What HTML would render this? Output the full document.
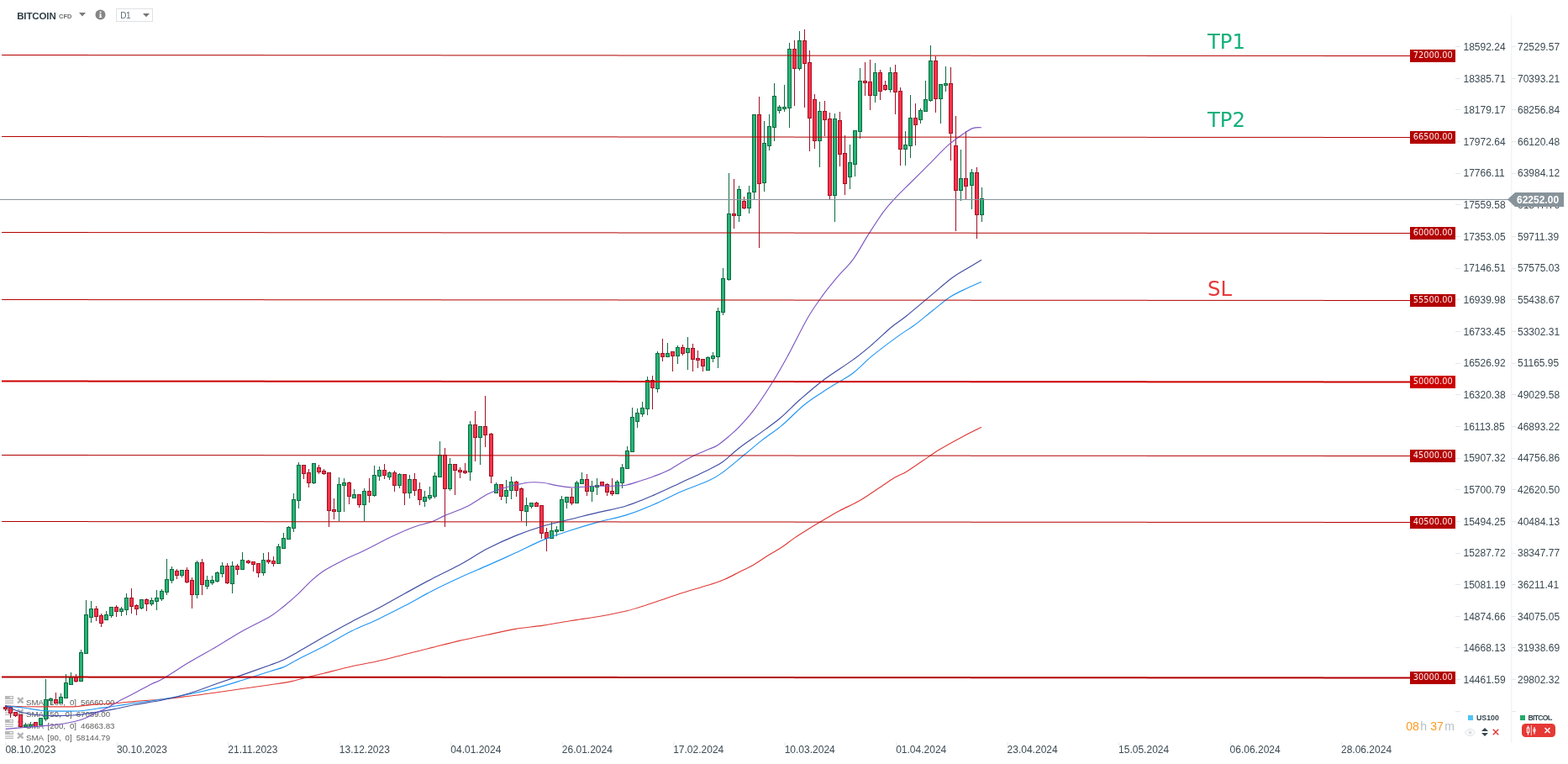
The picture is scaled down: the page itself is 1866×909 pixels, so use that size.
<!DOCTYPE html>
<html><head><meta charset="utf-8"><title>BITCOIN CFD D1</title>
<style>
html,body{margin:0;padding:0;background:#fff;}
body{width:1866px;height:909px;position:relative;overflow:hidden;font-family:"Liberation Sans",sans-serif;color:#37474f;}
#chart{position:absolute;left:0;top:0;}
.pl{position:absolute;left:1678px;width:54px;height:15px;background:#b30000;color:#fff;font-family:"DejaVu Sans","Liberation Sans",sans-serif;font-size:9.8px;line-height:14.4px;text-align:center;letter-spacing:0.04px;text-indent:0.5px;color:rgba(255,255,255,.93);}
.a1,.a2{position:absolute;font-size:12px;line-height:14px;height:14px;color:#3b4a52;white-space:nowrap;}
.a1{left:1741.5px;} .a2{left:1806px;}
.dt{position:absolute;top:884.5px;font-size:12px;line-height:14px;color:#3b4a52;white-space:nowrap;}
.hdr{position:absolute;left:0;top:0;}
.sym{position:absolute;left:20.2px;top:12px;font-size:11.5px;line-height:14px;font-weight:bold;color:#2f3e46;letter-spacing:-0.12px;}
.cfd{position:absolute;left:70px;top:14.8px;font-size:7.5px;line-height:10px;font-weight:bold;color:#6b6f72;}
.d1{position:absolute;left:138px;top:10px;width:44px;height:16px;border:1px solid #dfe1e3;box-sizing:border-box;background:#fff;}
.d1 span{position:absolute;left:4.2px;top:1.4px;font-size:10px;line-height:14px;color:#5a6b75;letter-spacing:-0.4px;}
.tp{position:absolute;font-family:"DejaVu Sans","Liberation Sans",sans-serif;font-size:24.3px;line-height:28px;white-space:nowrap;}
.lg{position:absolute;left:6px;height:14px;white-space:pre;font-size:9.7px;line-height:14px;color:#5d5d5d;}
.lg svg.li{position:absolute;left:0.3px;top:-0.2px;}
.lg svg.lx{position:absolute;left:13.6px;top:0.5px;}
.lg span{position:absolute;left:25px;top:0.6px;word-spacing:-0.2px;}
.cur{position:absolute;left:1794px;top:229px;width:67px;height:17px;}
.cur span{position:absolute;left:11px;top:1.5px;font-size:12px;line-height:14px;font-weight:bold;color:#fff;letter-spacing:0;}
.tm{position:absolute;top:855.3px;font-size:14px;line-height:18px;white-space:nowrap;color:#ff9a1f;}
.tm.g{color:#b5c0c6;}
.l1{position:absolute;left:1757px;top:847.5px;font-size:8.8px;line-height:12px;font-weight:bold;color:#37474f;white-space:nowrap;}
.l2{position:absolute;left:1818.5px;top:848px;font-size:8.6px;line-height:12px;font-weight:bold;color:#37474f;white-space:nowrap;letter-spacing:-0.68px;}
.btn{position:absolute;left:1811px;top:861px;width:40px;height:16px;border-radius:4.5px;background:#e53935;}
</style></head>
<body>
<div class="lg" style="top:828.1px"><svg class="li" width="10" height="9" viewBox="0 0 10 9"><path d="M0 0h10v4H0zM0 5.3h10v1.2H0zM0 7.8h10V9H0z" fill="#b8b8b8"/><rect x="5.5" y="1.2" width="3.5" height="1.3" fill="#fff"/></svg><svg class="lx" width="8.6" height="8.6" viewBox="0 0 8 8"><path d="M1 1L7 7M7 1L1 7" stroke="#b4b4b4" stroke-width="2.2"/></svg><span>SMA  [100,  0]  56660.00</span></div>
<div class="lg" style="top:842.1px"><svg class="li" width="10" height="9" viewBox="0 0 10 9"><path d="M0 0h10v4H0zM0 5.3h10v1.2H0zM0 7.8h10V9H0z" fill="#b8b8b8"/><rect x="5.5" y="1.2" width="3.5" height="1.3" fill="#fff"/></svg><svg class="lx" width="8.6" height="8.6" viewBox="0 0 8 8"><path d="M1 1L7 7M7 1L1 7" stroke="#b4b4b4" stroke-width="2.2"/></svg><span>SMA  [50,  0]  67089.00</span></div>
<div class="lg" style="top:856.2px"><svg class="li" width="10" height="9" viewBox="0 0 10 9"><path d="M0 0h10v4H0zM0 5.3h10v1.2H0zM0 7.8h10V9H0z" fill="#b8b8b8"/><rect x="5.5" y="1.2" width="3.5" height="1.3" fill="#fff"/></svg><svg class="lx" width="8.6" height="8.6" viewBox="0 0 8 8"><path d="M1 1L7 7M7 1L1 7" stroke="#b4b4b4" stroke-width="2.2"/></svg><span>SMA  [200,  0]  46863.83</span></div>
<div class="lg" style="top:870.1px"><svg class="li" width="10" height="9" viewBox="0 0 10 9"><path d="M0 0h10v4H0zM0 5.3h10v1.2H0zM0 7.8h10V9H0z" fill="#b8b8b8"/><rect x="5.5" y="1.2" width="3.5" height="1.3" fill="#fff"/></svg><svg class="lx" width="8.6" height="8.6" viewBox="0 0 8 8"><path d="M1 1L7 7M7 1L1 7" stroke="#b4b4b4" stroke-width="2.2"/></svg><span>SMA  [90,  0]  58144.79</span></div>
<svg id="chart" width="1866" height="909" viewBox="0 0 1866 909">
<rect x="1798.3" y="18" width="1" height="866" fill="#eceff1"/>
<rect x="1732" y="55" width="6" height="1" fill="#e4e8ea"/>
<rect x="1799" y="55" width="5" height="1" fill="#e4e8ea"/>
<rect x="1732" y="93" width="6" height="1" fill="#e4e8ea"/>
<rect x="1799" y="93" width="5" height="1" fill="#e4e8ea"/>
<rect x="1732" y="130" width="6" height="1" fill="#e4e8ea"/>
<rect x="1799" y="130" width="5" height="1" fill="#e4e8ea"/>
<rect x="1732" y="168" width="6" height="1" fill="#e4e8ea"/>
<rect x="1799" y="168" width="5" height="1" fill="#e4e8ea"/>
<rect x="1732" y="206" width="6" height="1" fill="#e4e8ea"/>
<rect x="1799" y="206" width="5" height="1" fill="#e4e8ea"/>
<rect x="1732" y="243" width="6" height="1" fill="#e4e8ea"/>
<rect x="1799" y="243" width="5" height="1" fill="#e4e8ea"/>
<rect x="1732" y="281" width="6" height="1" fill="#e4e8ea"/>
<rect x="1799" y="281" width="5" height="1" fill="#e4e8ea"/>
<rect x="1732" y="319" width="6" height="1" fill="#e4e8ea"/>
<rect x="1799" y="319" width="5" height="1" fill="#e4e8ea"/>
<rect x="1732" y="356" width="6" height="1" fill="#e4e8ea"/>
<rect x="1799" y="356" width="5" height="1" fill="#e4e8ea"/>
<rect x="1732" y="394" width="6" height="1" fill="#e4e8ea"/>
<rect x="1799" y="394" width="5" height="1" fill="#e4e8ea"/>
<rect x="1732" y="432" width="6" height="1" fill="#e4e8ea"/>
<rect x="1799" y="432" width="5" height="1" fill="#e4e8ea"/>
<rect x="1732" y="469" width="6" height="1" fill="#e4e8ea"/>
<rect x="1799" y="469" width="5" height="1" fill="#e4e8ea"/>
<rect x="1732" y="507" width="6" height="1" fill="#e4e8ea"/>
<rect x="1799" y="507" width="5" height="1" fill="#e4e8ea"/>
<rect x="1732" y="545" width="6" height="1" fill="#e4e8ea"/>
<rect x="1799" y="545" width="5" height="1" fill="#e4e8ea"/>
<rect x="1732" y="582" width="6" height="1" fill="#e4e8ea"/>
<rect x="1799" y="582" width="5" height="1" fill="#e4e8ea"/>
<rect x="1732" y="620" width="6" height="1" fill="#e4e8ea"/>
<rect x="1799" y="620" width="5" height="1" fill="#e4e8ea"/>
<rect x="1732" y="658" width="6" height="1" fill="#e4e8ea"/>
<rect x="1799" y="658" width="5" height="1" fill="#e4e8ea"/>
<rect x="1732" y="695" width="6" height="1" fill="#e4e8ea"/>
<rect x="1799" y="695" width="5" height="1" fill="#e4e8ea"/>
<rect x="1732" y="733" width="6" height="1" fill="#e4e8ea"/>
<rect x="1799" y="733" width="5" height="1" fill="#e4e8ea"/>
<rect x="1732" y="770" width="6" height="1" fill="#e4e8ea"/>
<rect x="1799" y="770" width="5" height="1" fill="#e4e8ea"/>
<rect x="1732" y="808" width="6" height="1" fill="#e4e8ea"/>
<rect x="1799" y="808" width="5" height="1" fill="#e4e8ea"/>
<rect x="1732" y="846" width="6" height="1" fill="#e4e8ea"/>
<rect x="1799" y="846" width="5" height="1" fill="#e4e8ea"/>
<rect x="6.4" y="883" width="1" height="4" fill="#e4e8ea"/>
<rect x="138.9" y="883" width="1" height="4" fill="#e4e8ea"/>
<rect x="271.3" y="883" width="1" height="4" fill="#e4e8ea"/>
<rect x="403.8" y="883" width="1" height="4" fill="#e4e8ea"/>
<rect x="536.3" y="883" width="1" height="4" fill="#e4e8ea"/>
<rect x="668.8" y="883" width="1" height="4" fill="#e4e8ea"/>
<rect x="801.2" y="883" width="1" height="4" fill="#e4e8ea"/>
<rect x="933.7" y="883" width="1" height="4" fill="#e4e8ea"/>
<rect x="1066.2" y="883" width="1" height="4" fill="#e4e8ea"/>
<rect x="1198.6" y="883" width="1" height="4" fill="#e4e8ea"/>
<rect x="1331.1" y="883" width="1" height="4" fill="#e4e8ea"/>
<rect x="1463.6" y="883" width="1" height="4" fill="#e4e8ea"/>
<rect x="1596.0" y="883" width="1" height="4" fill="#e4e8ea"/>
<path d="M6.5 839.0V846.0" stroke="#a01126" stroke-width="1"/>
<rect x="4.5" y="841.5" width="4" height="2.0" fill="#ff3249" stroke="#a01126" stroke-width="1"/>
<path d="M12.5 841.0V854.0" stroke="#a01126" stroke-width="1"/>
<rect x="10.5" y="841.5" width="4" height="7.0" fill="#ff3249" stroke="#a01126" stroke-width="1"/>
<path d="M18.5 847.0V853.0" stroke="#a01126" stroke-width="1"/>
<rect x="16.5" y="847.5" width="4" height="4.0" fill="#ff3249" stroke="#a01126" stroke-width="1"/>
<path d="M24.5 850.0V866.0" stroke="#a01126" stroke-width="1"/>
<rect x="22.5" y="850.5" width="4" height="14.0" fill="#ff3249" stroke="#a01126" stroke-width="1"/>
<path d="M30.5 860.0V866.0" stroke="#0b6b40" stroke-width="1"/>
<rect x="28.5" y="862.5" width="4" height="2.0" fill="#27b376" stroke="#0b6b40" stroke-width="1"/>
<path d="M36.5 859.0V866.0" stroke="#0b6b40" stroke-width="1"/>
<rect x="34.5" y="862.5" width="4" height="2.0" fill="#27b376" stroke="#0b6b40" stroke-width="1"/>
<path d="M42.5 859.0V865.0" stroke="#a01126" stroke-width="1"/>
<rect x="40.5" y="859.5" width="4" height="5.0" fill="#ff3249" stroke="#a01126" stroke-width="1"/>
<path d="M48.5 854.0V863.0" stroke="#0b6b40" stroke-width="1"/>
<rect x="46.5" y="854.5" width="4" height="8.0" fill="#27b376" stroke="#0b6b40" stroke-width="1"/>
<path d="M54.5 808.0V858.0" stroke="#0b6b40" stroke-width="1"/>
<rect x="52.5" y="832.5" width="4" height="23.0" fill="#27b376" stroke="#0b6b40" stroke-width="1"/>
<path d="M60.5 830.0V839.0" stroke="#0b6b40" stroke-width="1"/>
<rect x="58.5" y="831.5" width="4" height="2.0" fill="#27b376" stroke="#0b6b40" stroke-width="1"/>
<path d="M66.5 824.0V837.0" stroke="#a01126" stroke-width="1"/>
<rect x="64.5" y="832.5" width="4" height="4.0" fill="#ff3249" stroke="#a01126" stroke-width="1"/>
<path d="M72.5 825.0V836.0" stroke="#0b6b40" stroke-width="1"/>
<rect x="70.5" y="829.5" width="4" height="7.0" fill="#27b376" stroke="#0b6b40" stroke-width="1"/>
<path d="M78.5 802.0V831.0" stroke="#0b6b40" stroke-width="1"/>
<rect x="76.5" y="812.5" width="4" height="18.0" fill="#27b376" stroke="#0b6b40" stroke-width="1"/>
<path d="M84.5 800.0V815.0" stroke="#0b6b40" stroke-width="1"/>
<rect x="82.5" y="805.5" width="4" height="9.0" fill="#27b376" stroke="#0b6b40" stroke-width="1"/>
<path d="M90.5 802.0V812.0" stroke="#a01126" stroke-width="1"/>
<rect x="88.5" y="805.5" width="4" height="5.0" fill="#ff3249" stroke="#a01126" stroke-width="1"/>
<path d="M96.5 773.0V810.0" stroke="#0b6b40" stroke-width="1"/>
<rect x="94.5" y="776.5" width="4" height="34.0" fill="#27b376" stroke="#0b6b40" stroke-width="1"/>
<path d="M102.5 714.0V778.0" stroke="#0b6b40" stroke-width="1"/>
<rect x="100.5" y="731.5" width="4" height="46.0" fill="#27b376" stroke="#0b6b40" stroke-width="1"/>
<path d="M108.5 715.0V741.0" stroke="#0b6b40" stroke-width="1"/>
<rect x="106.5" y="724.5" width="4" height="10.0" fill="#27b376" stroke="#0b6b40" stroke-width="1"/>
<path d="M114.5 721.0V739.0" stroke="#a01126" stroke-width="1"/>
<rect x="112.5" y="724.5" width="4" height="9.0" fill="#ff3249" stroke="#a01126" stroke-width="1"/>
<path d="M120.5 730.0V746.0" stroke="#a01126" stroke-width="1"/>
<rect x="118.5" y="732.5" width="4" height="9.0" fill="#ff3249" stroke="#a01126" stroke-width="1"/>
<path d="M126.5 727.0V738.0" stroke="#0b6b40" stroke-width="1"/>
<rect x="124.5" y="731.5" width="4" height="6.0" fill="#27b376" stroke="#0b6b40" stroke-width="1"/>
<path d="M132.5 722.0V735.0" stroke="#0b6b40" stroke-width="1"/>
<rect x="130.5" y="722.5" width="4" height="10.0" fill="#27b376" stroke="#0b6b40" stroke-width="1"/>
<path d="M138.5 720.0V734.0" stroke="#a01126" stroke-width="1"/>
<rect x="136.5" y="722.5" width="4" height="5.0" fill="#ff3249" stroke="#a01126" stroke-width="1"/>
<path d="M144.5 722.0V733.0" stroke="#0b6b40" stroke-width="1"/>
<rect x="142.5" y="724.5" width="4" height="3.0" fill="#27b376" stroke="#0b6b40" stroke-width="1"/>
<path d="M150.5 706.0V732.0" stroke="#0b6b40" stroke-width="1"/>
<rect x="148.5" y="711.5" width="4" height="14.0" fill="#27b376" stroke="#0b6b40" stroke-width="1"/>
<path d="M156.5 700.0V730.0" stroke="#a01126" stroke-width="1"/>
<rect x="154.5" y="711.5" width="4" height="10.0" fill="#ff3249" stroke="#a01126" stroke-width="1"/>
<path d="M162.5 719.0V732.0" stroke="#a01126" stroke-width="1"/>
<rect x="160.5" y="720.5" width="4" height="4.0" fill="#ff3249" stroke="#a01126" stroke-width="1"/>
<path d="M168.5 713.0V725.0" stroke="#0b6b40" stroke-width="1"/>
<rect x="166.5" y="713.5" width="4" height="10.0" fill="#27b376" stroke="#0b6b40" stroke-width="1"/>
<path d="M174.5 712.0V727.0" stroke="#a01126" stroke-width="1"/>
<rect x="172.5" y="713.5" width="4" height="5.0" fill="#ff3249" stroke="#a01126" stroke-width="1"/>
<path d="M180.5 711.0V721.0" stroke="#0b6b40" stroke-width="1"/>
<rect x="178.5" y="714.5" width="4" height="4.0" fill="#27b376" stroke="#0b6b40" stroke-width="1"/>
<path d="M186.5 702.0V726.0" stroke="#0b6b40" stroke-width="1"/>
<rect x="184.5" y="711.5" width="4" height="4.0" fill="#27b376" stroke="#0b6b40" stroke-width="1"/>
<path d="M192.5 701.0V715.0" stroke="#0b6b40" stroke-width="1"/>
<rect x="190.5" y="703.5" width="4" height="9.0" fill="#27b376" stroke="#0b6b40" stroke-width="1"/>
<path d="M198.5 665.0V708.0" stroke="#0b6b40" stroke-width="1"/>
<rect x="196.5" y="689.5" width="4" height="15.0" fill="#27b376" stroke="#0b6b40" stroke-width="1"/>
<path d="M204.5 674.0V694.0" stroke="#0b6b40" stroke-width="1"/>
<rect x="202.5" y="677.5" width="4" height="13.0" fill="#27b376" stroke="#0b6b40" stroke-width="1"/>
<path d="M210.5 677.0V689.0" stroke="#a01126" stroke-width="1"/>
<rect x="208.5" y="679.5" width="4" height="5.0" fill="#ff3249" stroke="#a01126" stroke-width="1"/>
<path d="M216.5 678.0V687.0" stroke="#0b6b40" stroke-width="1"/>
<rect x="214.5" y="678.5" width="4" height="6.0" fill="#27b376" stroke="#0b6b40" stroke-width="1"/>
<path d="M222.5 675.0V694.0" stroke="#a01126" stroke-width="1"/>
<rect x="220.5" y="678.5" width="4" height="14.0" fill="#ff3249" stroke="#a01126" stroke-width="1"/>
<path d="M228.5 687.0V724.0" stroke="#a01126" stroke-width="1"/>
<rect x="226.5" y="690.5" width="4" height="17.0" fill="#ff3249" stroke="#a01126" stroke-width="1"/>
<path d="M234.5 667.0V712.0" stroke="#0b6b40" stroke-width="1"/>
<rect x="232.5" y="669.5" width="4" height="38.0" fill="#27b376" stroke="#0b6b40" stroke-width="1"/>
<path d="M240.5 665.0V708.0" stroke="#a01126" stroke-width="1"/>
<rect x="238.5" y="669.5" width="4" height="26.0" fill="#ff3249" stroke="#a01126" stroke-width="1"/>
<path d="M246.5 685.0V701.0" stroke="#0b6b40" stroke-width="1"/>
<rect x="244.5" y="690.5" width="4" height="7.0" fill="#27b376" stroke="#0b6b40" stroke-width="1"/>
<path d="M252.5 685.0V696.0" stroke="#0b6b40" stroke-width="1"/>
<rect x="250.5" y="690.5" width="4" height="3.0" fill="#27b376" stroke="#0b6b40" stroke-width="1"/>
<path d="M258.5 680.0V693.0" stroke="#0b6b40" stroke-width="1"/>
<rect x="256.5" y="681.5" width="4" height="10.0" fill="#27b376" stroke="#0b6b40" stroke-width="1"/>
<path d="M264.5 669.0V687.0" stroke="#0b6b40" stroke-width="1"/>
<rect x="262.5" y="673.5" width="4" height="9.0" fill="#27b376" stroke="#0b6b40" stroke-width="1"/>
<path d="M270.5 670.0V695.0" stroke="#a01126" stroke-width="1"/>
<rect x="268.5" y="673.5" width="4" height="20.0" fill="#ff3249" stroke="#a01126" stroke-width="1"/>
<path d="M276.5 668.0V706.0" stroke="#0b6b40" stroke-width="1"/>
<rect x="274.5" y="673.5" width="4" height="21.0" fill="#27b376" stroke="#0b6b40" stroke-width="1"/>
<path d="M282.5 671.0V684.0" stroke="#a01126" stroke-width="1"/>
<rect x="280.5" y="673.5" width="4" height="4.0" fill="#ff3249" stroke="#a01126" stroke-width="1"/>
<path d="M288.5 657.0V678.0" stroke="#0b6b40" stroke-width="1"/>
<rect x="286.5" y="666.5" width="4" height="11.0" fill="#27b376" stroke="#0b6b40" stroke-width="1"/>
<path d="M295.5 666.0V671.0" stroke="#a01126" stroke-width="1"/>
<rect x="293.5" y="667.5" width="4" height="2.0" fill="#ff3249" stroke="#a01126" stroke-width="1"/>
<path d="M301.5 668.0V680.0" stroke="#a01126" stroke-width="1"/>
<rect x="299.5" y="668.5" width="4" height="3.0" fill="#ff3249" stroke="#a01126" stroke-width="1"/>
<path d="M307.5 670.0V687.0" stroke="#a01126" stroke-width="1"/>
<rect x="305.5" y="670.5" width="4" height="11.0" fill="#ff3249" stroke="#a01126" stroke-width="1"/>
<path d="M313.5 658.0V685.0" stroke="#0b6b40" stroke-width="1"/>
<rect x="311.5" y="666.5" width="4" height="15.0" fill="#27b376" stroke="#0b6b40" stroke-width="1"/>
<path d="M319.5 657.0V671.0" stroke="#a01126" stroke-width="1"/>
<rect x="317.5" y="666.5" width="4" height="2.0" fill="#ff3249" stroke="#a01126" stroke-width="1"/>
<path d="M325.5 662.0V674.0" stroke="#a01126" stroke-width="1"/>
<rect x="323.5" y="667.5" width="4" height="3.0" fill="#ff3249" stroke="#a01126" stroke-width="1"/>
<path d="M331.5 647.0V671.0" stroke="#0b6b40" stroke-width="1"/>
<rect x="329.5" y="650.5" width="4" height="20.0" fill="#27b376" stroke="#0b6b40" stroke-width="1"/>
<path d="M337.5 634.0V652.0" stroke="#0b6b40" stroke-width="1"/>
<rect x="335.5" y="640.5" width="4" height="12.0" fill="#27b376" stroke="#0b6b40" stroke-width="1"/>
<path d="M343.5 626.0V642.0" stroke="#0b6b40" stroke-width="1"/>
<rect x="341.5" y="627.5" width="4" height="14.0" fill="#27b376" stroke="#0b6b40" stroke-width="1"/>
<path d="M349.5 587.0V633.0" stroke="#0b6b40" stroke-width="1"/>
<rect x="347.5" y="594.5" width="4" height="34.0" fill="#27b376" stroke="#0b6b40" stroke-width="1"/>
<path d="M355.5 550.0V605.0" stroke="#0b6b40" stroke-width="1"/>
<rect x="353.5" y="553.5" width="4" height="42.0" fill="#27b376" stroke="#0b6b40" stroke-width="1"/>
<path d="M361.5 553.0V570.0" stroke="#a01126" stroke-width="1"/>
<rect x="359.5" y="553.5" width="4" height="10.0" fill="#ff3249" stroke="#a01126" stroke-width="1"/>
<path d="M367.5 558.0V580.0" stroke="#a01126" stroke-width="1"/>
<rect x="365.5" y="562.5" width="4" height="12.0" fill="#ff3249" stroke="#a01126" stroke-width="1"/>
<path d="M373.5 551.0V576.0" stroke="#0b6b40" stroke-width="1"/>
<rect x="371.5" y="551.5" width="4" height="23.0" fill="#27b376" stroke="#0b6b40" stroke-width="1"/>
<path d="M379.5 553.0V564.0" stroke="#a01126" stroke-width="1"/>
<rect x="377.5" y="556.5" width="4" height="5.0" fill="#ff3249" stroke="#a01126" stroke-width="1"/>
<path d="M385.5 558.0V565.0" stroke="#a01126" stroke-width="1"/>
<rect x="383.5" y="560.5" width="4" height="3.0" fill="#ff3249" stroke="#a01126" stroke-width="1"/>
<path d="M391.5 562.0V627.0" stroke="#a01126" stroke-width="1"/>
<rect x="389.5" y="562.5" width="4" height="45.0" fill="#ff3249" stroke="#a01126" stroke-width="1"/>
<path d="M397.5 593.0V618.0" stroke="#a01126" stroke-width="1"/>
<rect x="395.5" y="606.5" width="4" height="2.0" fill="#ff3249" stroke="#a01126" stroke-width="1"/>
<path d="M403.5 568.0V620.0" stroke="#0b6b40" stroke-width="1"/>
<rect x="401.5" y="576.5" width="4" height="32.0" fill="#27b376" stroke="#0b6b40" stroke-width="1"/>
<path d="M409.5 569.0V609.0" stroke="#0b6b40" stroke-width="1"/>
<rect x="407.5" y="574.5" width="4" height="3.0" fill="#27b376" stroke="#0b6b40" stroke-width="1"/>
<path d="M415.5 573.0V600.0" stroke="#a01126" stroke-width="1"/>
<rect x="413.5" y="574.5" width="4" height="16.0" fill="#ff3249" stroke="#a01126" stroke-width="1"/>
<path d="M421.5 582.0V593.0" stroke="#0b6b40" stroke-width="1"/>
<rect x="419.5" y="588.5" width="4" height="4.0" fill="#27b376" stroke="#0b6b40" stroke-width="1"/>
<path d="M427.5 588.0V604.0" stroke="#a01126" stroke-width="1"/>
<rect x="425.5" y="588.5" width="4" height="12.0" fill="#ff3249" stroke="#a01126" stroke-width="1"/>
<path d="M433.5 581.0V620.0" stroke="#0b6b40" stroke-width="1"/>
<rect x="431.5" y="584.5" width="4" height="16.0" fill="#27b376" stroke="#0b6b40" stroke-width="1"/>
<path d="M439.5 569.0V598.0" stroke="#a01126" stroke-width="1"/>
<rect x="437.5" y="584.5" width="4" height="5.0" fill="#ff3249" stroke="#a01126" stroke-width="1"/>
<path d="M445.5 554.0V591.0" stroke="#0b6b40" stroke-width="1"/>
<rect x="443.5" y="565.5" width="4" height="24.0" fill="#27b376" stroke="#0b6b40" stroke-width="1"/>
<path d="M451.5 555.0V572.0" stroke="#0b6b40" stroke-width="1"/>
<rect x="449.5" y="559.5" width="4" height="7.0" fill="#27b376" stroke="#0b6b40" stroke-width="1"/>
<path d="M457.5 552.0V570.0" stroke="#a01126" stroke-width="1"/>
<rect x="455.5" y="559.5" width="4" height="6.0" fill="#ff3249" stroke="#a01126" stroke-width="1"/>
<path d="M463.5 561.0V571.0" stroke="#0b6b40" stroke-width="1"/>
<rect x="461.5" y="562.5" width="4" height="5.0" fill="#27b376" stroke="#0b6b40" stroke-width="1"/>
<path d="M469.5 560.0V585.0" stroke="#a01126" stroke-width="1"/>
<rect x="467.5" y="562.5" width="4" height="15.0" fill="#ff3249" stroke="#a01126" stroke-width="1"/>
<path d="M475.5 563.0V581.0" stroke="#0b6b40" stroke-width="1"/>
<rect x="473.5" y="564.5" width="4" height="13.0" fill="#27b376" stroke="#0b6b40" stroke-width="1"/>
<path d="M481.5 564.0V601.0" stroke="#a01126" stroke-width="1"/>
<rect x="479.5" y="564.5" width="4" height="22.0" fill="#ff3249" stroke="#a01126" stroke-width="1"/>
<path d="M487.5 565.0V593.0" stroke="#0b6b40" stroke-width="1"/>
<rect x="485.5" y="570.5" width="4" height="16.0" fill="#27b376" stroke="#0b6b40" stroke-width="1"/>
<path d="M493.5 563.0V590.0" stroke="#a01126" stroke-width="1"/>
<rect x="491.5" y="570.5" width="4" height="13.0" fill="#ff3249" stroke="#a01126" stroke-width="1"/>
<path d="M499.5 574.0V601.0" stroke="#a01126" stroke-width="1"/>
<rect x="497.5" y="582.5" width="4" height="12.0" fill="#ff3249" stroke="#a01126" stroke-width="1"/>
<path d="M505.5 584.0V603.0" stroke="#0b6b40" stroke-width="1"/>
<rect x="503.5" y="591.5" width="4" height="5.0" fill="#27b376" stroke="#0b6b40" stroke-width="1"/>
<path d="M511.5 579.0V595.0" stroke="#0b6b40" stroke-width="1"/>
<rect x="509.5" y="589.5" width="4" height="3.0" fill="#27b376" stroke="#0b6b40" stroke-width="1"/>
<path d="M517.5 562.0V593.0" stroke="#0b6b40" stroke-width="1"/>
<rect x="515.5" y="566.5" width="4" height="24.0" fill="#27b376" stroke="#0b6b40" stroke-width="1"/>
<path d="M523.5 525.0V568.0" stroke="#0b6b40" stroke-width="1"/>
<rect x="521.5" y="541.5" width="4" height="26.0" fill="#27b376" stroke="#0b6b40" stroke-width="1"/>
<path d="M529.5 533.0V627.0" stroke="#a01126" stroke-width="1"/>
<rect x="527.5" y="541.5" width="4" height="40.0" fill="#ff3249" stroke="#a01126" stroke-width="1"/>
<path d="M535.5 545.0V584.0" stroke="#0b6b40" stroke-width="1"/>
<rect x="533.5" y="552.5" width="4" height="29.0" fill="#27b376" stroke="#0b6b40" stroke-width="1"/>
<path d="M541.5 552.0V589.0" stroke="#a01126" stroke-width="1"/>
<rect x="539.5" y="552.5" width="4" height="7.0" fill="#ff3249" stroke="#a01126" stroke-width="1"/>
<path d="M547.5 556.0V569.0" stroke="#a01126" stroke-width="1"/>
<rect x="545.5" y="559.5" width="4" height="2.0" fill="#ff3249" stroke="#a01126" stroke-width="1"/>
<path d="M553.5 551.0V564.0" stroke="#a01126" stroke-width="1"/>
<rect x="551.5" y="560.5" width="4" height="2.0" fill="#ff3249" stroke="#a01126" stroke-width="1"/>
<path d="M559.5 501.0V572.0" stroke="#0b6b40" stroke-width="1"/>
<rect x="557.5" y="505.5" width="4" height="56.0" fill="#27b376" stroke="#0b6b40" stroke-width="1"/>
<path d="M565.5 489.0V549.0" stroke="#a01126" stroke-width="1"/>
<rect x="563.5" y="505.5" width="4" height="15.0" fill="#ff3249" stroke="#a01126" stroke-width="1"/>
<path d="M571.5 507.0V553.0" stroke="#0b6b40" stroke-width="1"/>
<rect x="569.5" y="507.5" width="4" height="13.0" fill="#27b376" stroke="#0b6b40" stroke-width="1"/>
<path d="M577.5 471.0V532.0" stroke="#a01126" stroke-width="1"/>
<rect x="575.5" y="507.5" width="4" height="10.0" fill="#ff3249" stroke="#a01126" stroke-width="1"/>
<path d="M584.5 515.0V575.0" stroke="#a01126" stroke-width="1"/>
<rect x="582.5" y="516.5" width="4" height="50.0" fill="#ff3249" stroke="#a01126" stroke-width="1"/>
<path d="M590.5 574.0V586.0" stroke="#0b6b40" stroke-width="1"/>
<rect x="588.5" y="576.5" width="4" height="10.0" fill="#27b376" stroke="#0b6b40" stroke-width="1"/>
<path d="M596.5 576.0V595.0" stroke="#a01126" stroke-width="1"/>
<rect x="594.5" y="576.5" width="4" height="14.0" fill="#ff3249" stroke="#a01126" stroke-width="1"/>
<path d="M602.5 571.0V599.0" stroke="#0b6b40" stroke-width="1"/>
<rect x="600.5" y="583.5" width="4" height="7.0" fill="#27b376" stroke="#0b6b40" stroke-width="1"/>
<path d="M608.5 567.0V594.0" stroke="#0b6b40" stroke-width="1"/>
<rect x="606.5" y="573.5" width="4" height="10.0" fill="#27b376" stroke="#0b6b40" stroke-width="1"/>
<path d="M614.5 572.0V591.0" stroke="#a01126" stroke-width="1"/>
<rect x="612.5" y="573.5" width="4" height="10.0" fill="#ff3249" stroke="#a01126" stroke-width="1"/>
<path d="M620.5 580.0V620.0" stroke="#a01126" stroke-width="1"/>
<rect x="618.5" y="581.5" width="4" height="26.0" fill="#ff3249" stroke="#a01126" stroke-width="1"/>
<path d="M626.5 592.0V626.0" stroke="#0b6b40" stroke-width="1"/>
<rect x="624.5" y="601.5" width="4" height="7.0" fill="#27b376" stroke="#0b6b40" stroke-width="1"/>
<path d="M632.5 598.0V605.0" stroke="#0b6b40" stroke-width="1"/>
<rect x="630.5" y="598.5" width="4" height="4.0" fill="#27b376" stroke="#0b6b40" stroke-width="1"/>
<path d="M638.5 597.0V603.0" stroke="#a01126" stroke-width="1"/>
<rect x="636.5" y="598.5" width="4" height="4.0" fill="#ff3249" stroke="#a01126" stroke-width="1"/>
<path d="M644.5 601.0V641.0" stroke="#a01126" stroke-width="1"/>
<rect x="642.5" y="601.5" width="4" height="33.0" fill="#ff3249" stroke="#a01126" stroke-width="1"/>
<path d="M650.5 628.0V656.0" stroke="#a01126" stroke-width="1"/>
<rect x="648.5" y="633.5" width="4" height="7.0" fill="#ff3249" stroke="#a01126" stroke-width="1"/>
<path d="M656.5 621.0V641.0" stroke="#0b6b40" stroke-width="1"/>
<rect x="654.5" y="631.5" width="4" height="9.0" fill="#27b376" stroke="#0b6b40" stroke-width="1"/>
<path d="M662.5 626.0V638.0" stroke="#0b6b40" stroke-width="1"/>
<rect x="660.5" y="630.5" width="4" height="2.0" fill="#27b376" stroke="#0b6b40" stroke-width="1"/>
<path d="M668.5 590.0V632.0" stroke="#0b6b40" stroke-width="1"/>
<rect x="666.5" y="594.5" width="4" height="37.0" fill="#27b376" stroke="#0b6b40" stroke-width="1"/>
<path d="M674.5 591.0V605.0" stroke="#0b6b40" stroke-width="1"/>
<rect x="672.5" y="591.5" width="4" height="6.0" fill="#27b376" stroke="#0b6b40" stroke-width="1"/>
<path d="M680.5 581.0V601.0" stroke="#a01126" stroke-width="1"/>
<rect x="678.5" y="591.5" width="4" height="7.0" fill="#ff3249" stroke="#a01126" stroke-width="1"/>
<path d="M686.5 572.0V599.0" stroke="#0b6b40" stroke-width="1"/>
<rect x="684.5" y="574.5" width="4" height="24.0" fill="#27b376" stroke="#0b6b40" stroke-width="1"/>
<path d="M692.5 562.0V576.0" stroke="#0b6b40" stroke-width="1"/>
<rect x="690.5" y="570.5" width="4" height="5.0" fill="#27b376" stroke="#0b6b40" stroke-width="1"/>
<path d="M698.5 564.0V590.0" stroke="#a01126" stroke-width="1"/>
<rect x="696.5" y="570.5" width="4" height="14.0" fill="#ff3249" stroke="#a01126" stroke-width="1"/>
<path d="M704.5 572.0V597.0" stroke="#0b6b40" stroke-width="1"/>
<rect x="702.5" y="578.5" width="4" height="6.0" fill="#27b376" stroke="#0b6b40" stroke-width="1"/>
<path d="M710.5 569.0V589.0" stroke="#0b6b40" stroke-width="1"/>
<rect x="708.5" y="577.5" width="4" height="2.0" fill="#27b376" stroke="#0b6b40" stroke-width="1"/>
<path d="M716.5 574.0V578.0" stroke="#a01126" stroke-width="1"/>
<rect x="714.5" y="573.5" width="4" height="4.0" fill="#ff3249" stroke="#a01126" stroke-width="1"/>
<path d="M722.5 575.0V590.0" stroke="#a01126" stroke-width="1"/>
<rect x="720.5" y="576.5" width="4" height="9.0" fill="#ff3249" stroke="#a01126" stroke-width="1"/>
<path d="M728.5 569.0V590.0" stroke="#a01126" stroke-width="1"/>
<rect x="726.5" y="584.5" width="4" height="3.0" fill="#ff3249" stroke="#a01126" stroke-width="1"/>
<path d="M734.5 571.0V588.0" stroke="#0b6b40" stroke-width="1"/>
<rect x="732.5" y="573.5" width="4" height="14.0" fill="#27b376" stroke="#0b6b40" stroke-width="1"/>
<path d="M740.5 552.0V581.0" stroke="#0b6b40" stroke-width="1"/>
<rect x="738.5" y="556.5" width="4" height="18.0" fill="#27b376" stroke="#0b6b40" stroke-width="1"/>
<path d="M746.5 531.0V558.0" stroke="#0b6b40" stroke-width="1"/>
<rect x="744.5" y="536.5" width="4" height="21.0" fill="#27b376" stroke="#0b6b40" stroke-width="1"/>
<path d="M752.5 485.0V538.0" stroke="#0b6b40" stroke-width="1"/>
<rect x="750.5" y="496.5" width="4" height="41.0" fill="#27b376" stroke="#0b6b40" stroke-width="1"/>
<path d="M758.5 486.0V509.0" stroke="#0b6b40" stroke-width="1"/>
<rect x="756.5" y="491.5" width="4" height="10.0" fill="#27b376" stroke="#0b6b40" stroke-width="1"/>
<path d="M764.5 478.0V496.0" stroke="#0b6b40" stroke-width="1"/>
<rect x="762.5" y="485.5" width="4" height="7.0" fill="#27b376" stroke="#0b6b40" stroke-width="1"/>
<path d="M770.5 448.0V494.0" stroke="#0b6b40" stroke-width="1"/>
<rect x="768.5" y="452.5" width="4" height="34.0" fill="#27b376" stroke="#0b6b40" stroke-width="1"/>
<path d="M776.5 447.0V487.0" stroke="#a01126" stroke-width="1"/>
<rect x="774.5" y="452.5" width="4" height="9.0" fill="#ff3249" stroke="#a01126" stroke-width="1"/>
<path d="M782.5 418.0V467.0" stroke="#0b6b40" stroke-width="1"/>
<rect x="780.5" y="420.5" width="4" height="42.0" fill="#27b376" stroke="#0b6b40" stroke-width="1"/>
<path d="M788.5 403.0V430.0" stroke="#a01126" stroke-width="1"/>
<rect x="786.5" y="420.5" width="4" height="4.0" fill="#ff3249" stroke="#a01126" stroke-width="1"/>
<path d="M794.5 408.0V425.0" stroke="#0b6b40" stroke-width="1"/>
<rect x="792.5" y="420.5" width="4" height="4.0" fill="#27b376" stroke="#0b6b40" stroke-width="1"/>
<path d="M800.5 418.0V442.0" stroke="#a01126" stroke-width="1"/>
<rect x="798.5" y="418.5" width="4" height="5.0" fill="#ff3249" stroke="#a01126" stroke-width="1"/>
<path d="M806.5 411.0V433.0" stroke="#0b6b40" stroke-width="1"/>
<rect x="804.5" y="413.5" width="4" height="10.0" fill="#27b376" stroke="#0b6b40" stroke-width="1"/>
<path d="M812.5 410.0V423.0" stroke="#a01126" stroke-width="1"/>
<rect x="810.5" y="413.5" width="4" height="7.0" fill="#ff3249" stroke="#a01126" stroke-width="1"/>
<path d="M818.5 401.0V440.0" stroke="#0b6b40" stroke-width="1"/>
<rect x="816.5" y="414.5" width="4" height="5.0" fill="#27b376" stroke="#0b6b40" stroke-width="1"/>
<path d="M824.5 409.0V442.0" stroke="#a01126" stroke-width="1"/>
<rect x="822.5" y="414.5" width="4" height="13.0" fill="#ff3249" stroke="#a01126" stroke-width="1"/>
<path d="M830.5 417.0V438.0" stroke="#a01126" stroke-width="1"/>
<rect x="828.5" y="426.5" width="4" height="2.0" fill="#ff3249" stroke="#a01126" stroke-width="1"/>
<path d="M836.5 427.0V442.0" stroke="#a01126" stroke-width="1"/>
<rect x="834.5" y="427.5" width="4" height="8.0" fill="#ff3249" stroke="#a01126" stroke-width="1"/>
<path d="M842.5 424.0V441.0" stroke="#0b6b40" stroke-width="1"/>
<rect x="840.5" y="425.5" width="4" height="15.0" fill="#27b376" stroke="#0b6b40" stroke-width="1"/>
<path d="M848.5 419.0V431.0" stroke="#0b6b40" stroke-width="1"/>
<rect x="846.5" y="423.5" width="4" height="3.0" fill="#27b376" stroke="#0b6b40" stroke-width="1"/>
<path d="M854.5 366.0V438.0" stroke="#0b6b40" stroke-width="1"/>
<rect x="852.5" y="370.5" width="4" height="54.0" fill="#27b376" stroke="#0b6b40" stroke-width="1"/>
<path d="M860.5 319.0V375.0" stroke="#0b6b40" stroke-width="1"/>
<rect x="858.5" y="331.5" width="4" height="40.0" fill="#27b376" stroke="#0b6b40" stroke-width="1"/>
<path d="M867.5 206.0V334.0" stroke="#0b6b40" stroke-width="1"/>
<rect x="865.5" y="254.5" width="4" height="78.0" fill="#27b376" stroke="#0b6b40" stroke-width="1"/>
<path d="M873.5 213.0V272.0" stroke="#a01126" stroke-width="1"/>
<rect x="871.5" y="254.5" width="4" height="2.0" fill="#ff3249" stroke="#a01126" stroke-width="1"/>
<path d="M879.5 221.0V264.0" stroke="#0b6b40" stroke-width="1"/>
<rect x="877.5" y="225.5" width="4" height="31.0" fill="#27b376" stroke="#0b6b40" stroke-width="1"/>
<path d="M885.5 234.0V249.0" stroke="#a01126" stroke-width="1"/>
<rect x="883.5" y="239.5" width="4" height="8.0" fill="#ff3249" stroke="#a01126" stroke-width="1"/>
<path d="M891.5 221.0V254.0" stroke="#0b6b40" stroke-width="1"/>
<rect x="889.5" y="229.5" width="4" height="18.0" fill="#27b376" stroke="#0b6b40" stroke-width="1"/>
<path d="M897.5 136.0V237.0" stroke="#0b6b40" stroke-width="1"/>
<rect x="895.5" y="136.5" width="4" height="92.0" fill="#27b376" stroke="#0b6b40" stroke-width="1"/>
<path d="M903.5 115.0V295.0" stroke="#a01126" stroke-width="1"/>
<rect x="901.5" y="136.5" width="4" height="82.0" fill="#ff3249" stroke="#a01126" stroke-width="1"/>
<path d="M909.5 144.0V228.0" stroke="#0b6b40" stroke-width="1"/>
<rect x="907.5" y="170.5" width="4" height="47.0" fill="#27b376" stroke="#0b6b40" stroke-width="1"/>
<path d="M915.5 136.0V179.0" stroke="#0b6b40" stroke-width="1"/>
<rect x="913.5" y="150.5" width="4" height="23.0" fill="#27b376" stroke="#0b6b40" stroke-width="1"/>
<path d="M921.5 99.0V168.0" stroke="#0b6b40" stroke-width="1"/>
<rect x="919.5" y="114.5" width="4" height="37.0" fill="#27b376" stroke="#0b6b40" stroke-width="1"/>
<path d="M927.5 125.0V135.0" stroke="#0b6b40" stroke-width="1"/>
<rect x="925.5" y="127.5" width="4" height="4.0" fill="#27b376" stroke="#0b6b40" stroke-width="1"/>
<path d="M933.5 101.0V133.0" stroke="#0b6b40" stroke-width="1"/>
<rect x="931.5" y="127.5" width="4" height="2.0" fill="#27b376" stroke="#0b6b40" stroke-width="1"/>
<path d="M939.5 51.0V152.0" stroke="#0b6b40" stroke-width="1"/>
<rect x="937.5" y="58.5" width="4" height="70.0" fill="#27b376" stroke="#0b6b40" stroke-width="1"/>
<path d="M945.5 48.0V126.0" stroke="#a01126" stroke-width="1"/>
<rect x="943.5" y="58.5" width="4" height="23.0" fill="#ff3249" stroke="#a01126" stroke-width="1"/>
<path d="M951.5 37.0V84.0" stroke="#0b6b40" stroke-width="1"/>
<rect x="949.5" y="48.5" width="4" height="33.0" fill="#27b376" stroke="#0b6b40" stroke-width="1"/>
<path d="M957.5 35.0V128.0" stroke="#a01126" stroke-width="1"/>
<rect x="955.5" y="48.5" width="4" height="27.0" fill="#ff3249" stroke="#a01126" stroke-width="1"/>
<path d="M963.5 60.0V180.0" stroke="#a01126" stroke-width="1"/>
<rect x="961.5" y="74.5" width="4" height="66.0" fill="#ff3249" stroke="#a01126" stroke-width="1"/>
<path d="M969.5 112.0V177.0" stroke="#a01126" stroke-width="1"/>
<rect x="967.5" y="118.5" width="4" height="49.0" fill="#ff3249" stroke="#a01126" stroke-width="1"/>
<path d="M975.5 121.0V199.0" stroke="#0b6b40" stroke-width="1"/>
<rect x="973.5" y="132.5" width="4" height="35.0" fill="#27b376" stroke="#0b6b40" stroke-width="1"/>
<path d="M981.5 120.0V162.0" stroke="#a01126" stroke-width="1"/>
<rect x="979.5" y="132.5" width="4" height="10.0" fill="#ff3249" stroke="#a01126" stroke-width="1"/>
<path d="M987.5 134.0V237.0" stroke="#a01126" stroke-width="1"/>
<rect x="985.5" y="141.5" width="4" height="91.0" fill="#ff3249" stroke="#a01126" stroke-width="1"/>
<path d="M993.5 135.0V264.0" stroke="#0b6b40" stroke-width="1"/>
<rect x="991.5" y="141.5" width="4" height="91.0" fill="#27b376" stroke="#0b6b40" stroke-width="1"/>
<path d="M999.5 133.0V198.0" stroke="#a01126" stroke-width="1"/>
<rect x="997.5" y="143.5" width="4" height="40.0" fill="#ff3249" stroke="#a01126" stroke-width="1"/>
<path d="M1005.5 161.0V232.0" stroke="#a01126" stroke-width="1"/>
<rect x="1003.5" y="182.5" width="4" height="36.0" fill="#ff3249" stroke="#a01126" stroke-width="1"/>
<path d="M1011.5 172.0V225.0" stroke="#0b6b40" stroke-width="1"/>
<rect x="1009.5" y="193.5" width="4" height="17.0" fill="#27b376" stroke="#0b6b40" stroke-width="1"/>
<path d="M1017.5 155.0V210.0" stroke="#0b6b40" stroke-width="1"/>
<rect x="1015.5" y="155.5" width="4" height="40.0" fill="#27b376" stroke="#0b6b40" stroke-width="1"/>
<path d="M1023.5 81.0V165.0" stroke="#0b6b40" stroke-width="1"/>
<rect x="1021.5" y="96.5" width="4" height="60.0" fill="#27b376" stroke="#0b6b40" stroke-width="1"/>
<path d="M1029.5 74.0V114.0" stroke="#a01126" stroke-width="1"/>
<rect x="1027.5" y="96.5" width="4" height="2.0" fill="#ff3249" stroke="#a01126" stroke-width="1"/>
<path d="M1035.5 71.0V131.0" stroke="#a01126" stroke-width="1"/>
<rect x="1033.5" y="97.5" width="4" height="16.0" fill="#ff3249" stroke="#a01126" stroke-width="1"/>
<path d="M1041.5 75.0V122.0" stroke="#0b6b40" stroke-width="1"/>
<rect x="1039.5" y="86.5" width="4" height="27.0" fill="#27b376" stroke="#0b6b40" stroke-width="1"/>
<path d="M1047.5 83.0V119.0" stroke="#a01126" stroke-width="1"/>
<rect x="1045.5" y="86.5" width="4" height="22.0" fill="#ff3249" stroke="#a01126" stroke-width="1"/>
<path d="M1053.5 96.0V108.0" stroke="#a01126" stroke-width="1"/>
<rect x="1051.5" y="101.5" width="4" height="5.0" fill="#ff3249" stroke="#a01126" stroke-width="1"/>
<path d="M1059.5 80.0V110.0" stroke="#0b6b40" stroke-width="1"/>
<rect x="1057.5" y="86.5" width="4" height="20.0" fill="#27b376" stroke="#0b6b40" stroke-width="1"/>
<path d="M1065.5 77.0V136.0" stroke="#a01126" stroke-width="1"/>
<rect x="1063.5" y="86.5" width="4" height="23.0" fill="#ff3249" stroke="#a01126" stroke-width="1"/>
<path d="M1071.5 104.0V197.0" stroke="#a01126" stroke-width="1"/>
<rect x="1069.5" y="108.5" width="4" height="69.0" fill="#ff3249" stroke="#a01126" stroke-width="1"/>
<path d="M1077.5 156.0V197.0" stroke="#0b6b40" stroke-width="1"/>
<rect x="1075.5" y="172.5" width="4" height="5.0" fill="#27b376" stroke="#0b6b40" stroke-width="1"/>
<path d="M1083.5 113.0V188.0" stroke="#0b6b40" stroke-width="1"/>
<rect x="1081.5" y="140.5" width="4" height="33.0" fill="#27b376" stroke="#0b6b40" stroke-width="1"/>
<path d="M1089.5 123.0V173.0" stroke="#a01126" stroke-width="1"/>
<rect x="1087.5" y="140.5" width="4" height="8.0" fill="#ff3249" stroke="#a01126" stroke-width="1"/>
<path d="M1095.5 129.0V147.0" stroke="#0b6b40" stroke-width="1"/>
<rect x="1093.5" y="131.5" width="4" height="11.0" fill="#27b376" stroke="#0b6b40" stroke-width="1"/>
<path d="M1101.5 96.0V132.0" stroke="#0b6b40" stroke-width="1"/>
<rect x="1099.5" y="118.5" width="4" height="14.0" fill="#27b376" stroke="#0b6b40" stroke-width="1"/>
<path d="M1107.5 54.0V121.0" stroke="#0b6b40" stroke-width="1"/>
<rect x="1105.5" y="72.5" width="4" height="47.0" fill="#27b376" stroke="#0b6b40" stroke-width="1"/>
<path d="M1113.5 67.0V134.0" stroke="#a01126" stroke-width="1"/>
<rect x="1111.5" y="72.5" width="4" height="45.0" fill="#ff3249" stroke="#a01126" stroke-width="1"/>
<path d="M1119.5 100.0V147.0" stroke="#0b6b40" stroke-width="1"/>
<rect x="1117.5" y="100.5" width="4" height="17.0" fill="#27b376" stroke="#0b6b40" stroke-width="1"/>
<path d="M1125.5 79.0V109.0" stroke="#0b6b40" stroke-width="1"/>
<rect x="1123.5" y="99.5" width="4" height="2.0" fill="#27b376" stroke="#0b6b40" stroke-width="1"/>
<path d="M1131.5 80.0V191.0" stroke="#a01126" stroke-width="1"/>
<rect x="1129.5" y="99.5" width="4" height="59.0" fill="#ff3249" stroke="#a01126" stroke-width="1"/>
<path d="M1137.5 138.0V275.0" stroke="#a01126" stroke-width="1"/>
<rect x="1135.5" y="173.5" width="4" height="53.0" fill="#ff3249" stroke="#a01126" stroke-width="1"/>
<path d="M1143.5 178.0V239.0" stroke="#0b6b40" stroke-width="1"/>
<rect x="1141.5" y="212.5" width="4" height="14.0" fill="#27b376" stroke="#0b6b40" stroke-width="1"/>
<path d="M1149.5 156.0V237.0" stroke="#a01126" stroke-width="1"/>
<rect x="1147.5" y="212.5" width="4" height="9.0" fill="#ff3249" stroke="#a01126" stroke-width="1"/>
<path d="M1156.5 201.0V249.0" stroke="#0b6b40" stroke-width="1"/>
<rect x="1154.5" y="205.5" width="4" height="15.0" fill="#27b376" stroke="#0b6b40" stroke-width="1"/>
<path d="M1162.5 199.0V284.0" stroke="#a01126" stroke-width="1"/>
<rect x="1160.5" y="205.5" width="4" height="50.0" fill="#ff3249" stroke="#a01126" stroke-width="1"/>
<path d="M1168.5 223.0V264.0" stroke="#0b6b40" stroke-width="1"/>
<rect x="1166.5" y="236.5" width="4" height="19.0" fill="#27b376" stroke="#0b6b40" stroke-width="1"/>
<path d="M6.6 839.9C10.3 840.0 15.6 840.6 29.0 840.8C42.4 840.9 75.7 840.9 87.0 840.8C98.3 840.6 92.0 840.4 96.8 839.9C101.6 839.4 109.1 838.4 116.0 837.9C122.9 837.4 130.7 837.1 138.0 836.6C145.3 836.1 150.8 835.4 160.0 834.6C169.2 833.8 182.2 833.0 193.0 832.0C203.8 831.0 214.3 829.6 225.0 828.3C235.7 827.0 246.3 825.5 257.0 824.0C267.7 822.5 278.6 820.8 289.4 819.3C300.1 817.8 311.9 816.2 321.5 814.8C331.1 813.3 338.9 812.3 347.0 810.6C355.1 808.9 363.3 806.4 369.8 804.8C376.3 803.2 377.9 803.0 385.9 801.0C393.9 799.0 407.3 795.4 418.0 793.0C428.7 790.6 439.3 788.9 450.0 786.5C460.7 784.1 471.2 781.2 482.0 778.5C492.8 775.8 503.7 773.1 514.5 770.4C525.3 767.7 535.7 764.9 546.6 762.4C557.5 759.9 568.9 757.6 580.0 755.3C591.1 753.0 602.1 750.3 613.2 748.4C624.3 746.5 635.3 745.8 646.4 744.1C657.5 742.5 668.6 740.3 679.7 738.5C690.8 736.7 701.8 735.5 712.9 733.5C724.0 731.5 735.0 729.6 746.1 726.8C757.2 724.0 768.2 720.1 779.3 716.5C790.4 712.9 801.5 708.7 812.6 705.2C823.7 701.7 837.5 697.9 845.8 695.3C854.1 692.6 856.9 691.7 862.4 689.3C867.9 686.9 873.5 683.8 879.0 681.0C884.5 678.2 890.1 675.9 895.6 672.7C901.1 669.5 906.7 665.4 912.2 662.0C917.7 658.6 923.3 655.8 928.8 652.1C934.3 648.5 939.9 643.9 945.4 640.1C950.9 636.3 956.5 632.9 962.0 629.5C967.5 626.1 972.6 623.1 978.7 619.5C984.8 615.9 991.4 611.8 998.6 607.9C1005.8 604.0 1014.2 600.7 1021.9 596.3C1029.6 591.9 1037.8 586.0 1045.0 581.3C1052.2 576.6 1059.5 571.3 1065.0 568.0C1070.5 564.7 1072.8 564.7 1078.3 561.4C1083.8 558.1 1091.6 552.5 1098.3 548.1C1105.0 543.7 1110.5 539.5 1118.2 534.8C1126.0 530.1 1136.5 524.3 1144.8 519.9C1153.1 515.5 1164.1 510.1 1168.0 508.2" fill="none" stroke="#e03a35" stroke-width="1.15" stroke-linejoin="round"/>
<path d="M6.6 839.9C10.3 840.3 22.0 841.4 29.0 842.3C36.0 843.2 41.9 844.6 48.4 845.2C54.9 845.8 59.7 846.0 67.8 846.1C75.9 846.2 88.8 846.2 96.8 845.7C104.8 845.2 109.1 844.0 116.0 843.0C122.9 842.0 130.7 841.1 138.0 840.0C145.3 838.9 150.8 837.8 160.0 836.5C169.2 835.2 182.2 833.8 193.0 832.0C203.8 830.2 214.3 828.2 225.0 826.0C235.7 823.8 246.3 821.4 257.0 818.6C267.7 815.8 278.6 812.3 289.4 809.0C300.1 805.7 313.5 801.3 321.5 798.7C329.5 796.1 332.2 795.9 337.6 793.6C343.0 791.3 345.6 789.0 353.7 784.9C361.8 780.8 375.2 774.4 385.9 768.8C396.6 763.1 407.3 756.4 418.0 751.0C428.7 745.6 439.3 741.8 450.0 736.7C460.7 731.6 471.2 726.2 482.0 720.6C492.8 715.0 503.7 708.4 514.5 702.9C525.3 697.4 535.7 692.5 546.6 687.5C557.5 682.5 568.9 677.8 580.0 672.9C591.1 668.0 602.0 663.1 613.0 658.1C624.0 653.1 635.0 647.1 646.0 642.6C657.0 638.1 668.0 634.6 679.0 631.0C690.0 627.4 701.0 624.1 712.0 621.1C723.0 618.1 734.0 616.4 745.0 612.9C756.0 609.4 767.0 605.0 778.0 600.3C789.0 595.6 800.0 589.6 811.0 584.8C822.0 580.0 835.8 575.5 844.0 571.6C852.2 567.8 853.4 566.9 860.5 561.7C867.6 556.5 879.0 546.6 886.8 540.3C894.5 533.9 899.9 529.2 907.0 523.6C914.1 518.0 921.3 513.8 929.6 506.9C937.9 500.0 948.4 488.8 956.7 482.0C965.0 475.2 972.5 470.7 979.3 466.2C986.1 461.7 991.4 458.8 997.4 455.0C1003.4 451.2 1008.6 449.0 1015.4 443.7C1022.2 438.4 1029.0 430.8 1038.0 423.4C1047.0 416.0 1061.3 405.4 1069.6 399.4C1077.9 393.4 1080.8 392.3 1087.6 387.3C1094.4 382.3 1103.0 374.9 1110.2 369.2C1117.4 363.5 1123.7 357.8 1130.5 353.4C1137.3 349.0 1144.5 346.0 1150.8 343.0C1157.0 340.0 1165.1 336.7 1168.0 335.4" fill="none" stroke="#2196f3" stroke-width="1.15" stroke-linejoin="round"/>
<path d="M6.6 839.9C9.5 841.1 17.0 845.1 24.0 847.0C31.0 848.9 37.9 850.3 48.4 851.0C58.9 851.7 75.7 851.6 87.0 851.0C98.3 850.4 107.5 848.4 116.0 847.1C124.5 845.8 130.7 844.6 138.0 843.2C145.3 841.8 150.8 840.2 160.0 838.5C169.2 836.8 182.2 835.2 193.0 833.0C203.8 830.8 214.3 828.2 225.0 825.0C235.7 821.8 246.3 817.5 257.0 813.8C267.7 810.1 278.6 806.4 289.4 802.6C300.1 798.9 313.5 794.2 321.5 791.3C329.5 788.3 332.2 787.4 337.6 784.9C343.0 782.4 345.6 780.8 353.7 776.2C361.8 771.7 375.2 763.7 385.9 757.6C396.6 751.5 407.3 745.5 418.0 739.9C428.7 734.3 439.3 729.4 450.0 723.8C460.7 718.1 471.2 711.9 482.0 706.0C492.8 700.1 503.7 694.0 514.5 688.4C525.3 682.8 535.7 678.2 546.6 672.3C557.5 666.4 568.9 658.6 580.0 652.8C591.1 647.0 602.0 642.1 613.0 637.6C624.0 633.1 635.0 629.3 646.0 626.0C657.0 622.7 668.0 620.5 679.0 617.8C690.0 615.1 701.0 612.2 712.0 609.6C723.0 607.0 734.0 605.4 745.0 602.0C756.0 598.6 767.0 593.8 778.0 589.1C789.0 584.4 800.0 579.0 811.0 573.9C822.0 568.8 835.8 562.5 844.0 558.4C852.2 554.3 854.5 553.5 860.5 549.2C866.5 544.9 872.2 538.6 880.0 532.7C887.8 526.8 898.7 519.6 907.0 513.6C915.3 507.6 922.1 502.9 929.6 496.5C937.1 490.1 943.9 482.6 952.2 475.3C960.5 468.0 968.8 460.6 979.3 452.7C989.8 444.8 1005.6 435.0 1015.4 427.9C1025.2 420.8 1030.5 416.2 1038.0 409.8C1045.5 403.4 1053.7 395.1 1060.5 389.5C1067.3 383.9 1071.1 382.0 1078.6 376.0C1086.1 370.0 1096.7 360.9 1105.7 353.4C1114.7 345.9 1125.3 336.4 1132.8 330.8C1140.3 325.2 1144.9 323.2 1150.8 319.6C1156.7 316.0 1165.1 310.9 1168.0 309.2" fill="none" stroke="#3f4da3" stroke-width="1.15" stroke-linejoin="round"/>
<path d="M6.6 867.4C10.3 867.1 20.4 866.2 29.0 865.5C37.6 864.8 49.9 863.9 58.0 863.1C66.1 862.3 70.9 861.8 77.4 860.7C83.9 859.6 90.4 858.5 96.8 856.3C103.2 854.1 110.8 850.0 116.0 847.6C121.2 845.2 123.2 844.5 128.0 842.0C132.8 839.5 139.5 835.2 145.0 832.3C150.5 829.3 155.0 827.4 160.8 824.3C166.6 821.2 174.6 816.6 180.0 813.9C185.4 811.2 185.5 812.3 193.0 808.0C200.5 803.7 214.3 794.5 225.0 788.1C235.7 781.7 246.3 776.1 257.0 769.8C267.7 763.5 278.2 756.6 289.0 750.5C299.8 744.4 313.4 738.2 321.5 733.4C329.6 728.6 332.2 725.8 337.6 721.5C343.0 717.2 348.3 712.7 353.7 707.7C359.1 702.7 364.4 696.4 369.8 691.6C375.2 686.8 379.5 683.0 385.9 678.8C392.3 674.6 400.4 670.6 408.4 666.6C416.4 662.6 424.4 659.4 434.0 654.7C443.6 650.0 456.3 643.2 466.0 638.6C475.7 634.0 483.9 630.3 492.0 627.3C500.1 624.3 508.1 622.9 514.5 620.5C520.9 618.1 523.6 615.9 530.5 612.9C537.4 609.9 547.8 606.7 556.0 602.6C564.2 598.5 573.2 591.6 580.0 588.1C586.8 584.6 591.0 583.3 596.5 581.5C602.0 579.7 607.5 578.5 613.0 577.2C618.5 576.0 624.0 574.5 629.5 574.0C635.0 573.5 640.5 573.7 646.0 574.3C651.5 574.9 657.0 576.7 662.5 577.6C668.0 578.5 673.5 579.6 679.0 579.9C684.5 580.2 690.0 579.5 695.5 579.2C701.0 578.9 706.5 578.4 712.0 578.2C717.5 578.0 723.0 578.4 728.5 578.2C734.0 578.0 739.5 578.2 745.0 577.2C750.5 576.2 756.0 574.0 761.5 572.3C767.0 570.5 772.5 568.8 778.0 566.7C783.5 564.7 789.0 562.8 794.5 560.0C800.0 557.2 805.5 553.3 811.0 550.2C816.5 547.1 822.0 543.9 827.5 541.3C833.0 538.6 839.6 536.2 844.0 534.3C848.4 532.4 850.2 532.2 854.0 529.7C857.8 527.2 862.7 523.2 867.0 519.5C871.3 515.8 874.8 513.0 880.0 507.5C885.2 502.0 891.2 495.7 898.0 486.6C904.8 477.5 913.8 463.6 920.6 452.7C927.4 441.8 931.9 433.5 938.7 421.1C945.5 408.7 954.4 389.9 961.2 378.2C968.0 366.5 973.3 359.5 979.3 351.2C985.3 342.9 991.4 335.8 997.4 328.6C1003.4 321.5 1009.4 316.6 1015.4 308.3C1021.4 300.0 1027.5 288.3 1033.5 278.9C1039.5 269.5 1046.2 259.0 1051.5 251.9C1056.8 244.8 1059.8 241.8 1065.0 236.1C1070.2 230.4 1076.2 224.8 1083.0 218.0C1089.8 211.2 1098.2 202.9 1105.7 195.4C1113.2 187.9 1121.4 178.9 1128.2 172.9C1135.0 166.9 1141.4 162.7 1146.3 159.3C1151.2 155.9 1154.0 153.9 1157.6 152.6C1161.2 151.3 1166.3 151.8 1168.0 151.7" fill="none" stroke="#7e57c2" stroke-width="1.15" stroke-linejoin="round"/>
<rect x="2" y="65.000" width="103" height="1" fill="#b30000"/>
<rect x="105" y="65.125" width="210" height="1" fill="#b30000"/>
<rect x="315" y="65.250" width="210" height="1" fill="#b30000"/>
<rect x="525" y="65.375" width="210" height="1" fill="#b30000"/>
<rect x="735" y="65.500" width="210" height="1" fill="#b30000"/>
<rect x="945" y="65.625" width="210" height="1" fill="#b30000"/>
<rect x="1155" y="65.750" width="210" height="1" fill="#b30000"/>
<rect x="1365" y="65.875" width="210" height="1" fill="#b30000"/>
<rect x="1575" y="66.000" width="104" height="1" fill="#b30000"/>
<rect x="2" y="162.000" width="103" height="1" fill="#b30000"/>
<rect x="105" y="162.125" width="210" height="1" fill="#b30000"/>
<rect x="315" y="162.250" width="210" height="1" fill="#b30000"/>
<rect x="525" y="162.375" width="210" height="1" fill="#b30000"/>
<rect x="735" y="162.500" width="210" height="1" fill="#b30000"/>
<rect x="945" y="162.625" width="210" height="1" fill="#b30000"/>
<rect x="1155" y="162.750" width="210" height="1" fill="#b30000"/>
<rect x="1365" y="162.875" width="210" height="1" fill="#b30000"/>
<rect x="1575" y="163.000" width="104" height="1" fill="#b30000"/>
<rect x="2" y="276.000" width="103" height="1" fill="#b30000"/>
<rect x="105" y="276.125" width="210" height="1" fill="#b30000"/>
<rect x="315" y="276.250" width="210" height="1" fill="#b30000"/>
<rect x="525" y="276.375" width="210" height="1" fill="#b30000"/>
<rect x="735" y="276.500" width="210" height="1" fill="#b30000"/>
<rect x="945" y="276.625" width="210" height="1" fill="#b30000"/>
<rect x="1155" y="276.750" width="210" height="1" fill="#b30000"/>
<rect x="1365" y="276.875" width="210" height="1" fill="#b30000"/>
<rect x="1575" y="277.000" width="104" height="1" fill="#b30000"/>
<rect x="2" y="356.000" width="103" height="1" fill="#b30000"/>
<rect x="105" y="356.125" width="210" height="1" fill="#b30000"/>
<rect x="315" y="356.250" width="210" height="1" fill="#b30000"/>
<rect x="525" y="356.375" width="210" height="1" fill="#b30000"/>
<rect x="735" y="356.500" width="210" height="1" fill="#b30000"/>
<rect x="945" y="356.625" width="210" height="1" fill="#b30000"/>
<rect x="1155" y="356.750" width="210" height="1" fill="#b30000"/>
<rect x="1365" y="356.875" width="210" height="1" fill="#b30000"/>
<rect x="1575" y="357.000" width="104" height="1" fill="#b30000"/>
<rect x="2" y="452.500" width="103" height="2" fill="#cc0000"/>
<rect x="105" y="452.625" width="210" height="2" fill="#cc0000"/>
<rect x="315" y="452.750" width="210" height="2" fill="#cc0000"/>
<rect x="525" y="452.875" width="210" height="2" fill="#cc0000"/>
<rect x="735" y="453.000" width="210" height="2" fill="#cc0000"/>
<rect x="945" y="453.125" width="210" height="2" fill="#cc0000"/>
<rect x="1155" y="453.250" width="210" height="2" fill="#cc0000"/>
<rect x="1365" y="453.375" width="210" height="2" fill="#cc0000"/>
<rect x="1575" y="453.500" width="104" height="2" fill="#cc0000"/>
<rect x="2" y="541.000" width="103" height="1" fill="#b30000"/>
<rect x="105" y="541.125" width="210" height="1" fill="#b30000"/>
<rect x="315" y="541.250" width="210" height="1" fill="#b30000"/>
<rect x="525" y="541.375" width="210" height="1" fill="#b30000"/>
<rect x="735" y="541.500" width="210" height="1" fill="#b30000"/>
<rect x="945" y="541.625" width="210" height="1" fill="#b30000"/>
<rect x="1155" y="541.750" width="210" height="1" fill="#b30000"/>
<rect x="1365" y="541.875" width="210" height="1" fill="#b30000"/>
<rect x="1575" y="542.000" width="104" height="1" fill="#b30000"/>
<rect x="2" y="620.000" width="103" height="1" fill="#b30000"/>
<rect x="105" y="620.125" width="210" height="1" fill="#b30000"/>
<rect x="315" y="620.250" width="210" height="1" fill="#b30000"/>
<rect x="525" y="620.375" width="210" height="1" fill="#b30000"/>
<rect x="735" y="620.500" width="210" height="1" fill="#b30000"/>
<rect x="945" y="620.625" width="210" height="1" fill="#b30000"/>
<rect x="1155" y="620.750" width="210" height="1" fill="#b30000"/>
<rect x="1365" y="620.875" width="210" height="1" fill="#b30000"/>
<rect x="1575" y="621.000" width="104" height="1" fill="#b30000"/>
<rect x="2" y="804.500" width="103" height="2" fill="#b30000"/>
<rect x="105" y="804.625" width="210" height="2" fill="#b30000"/>
<rect x="315" y="804.750" width="210" height="2" fill="#b30000"/>
<rect x="525" y="804.875" width="210" height="2" fill="#b30000"/>
<rect x="735" y="805.000" width="210" height="2" fill="#b30000"/>
<rect x="945" y="805.125" width="210" height="2" fill="#b30000"/>
<rect x="1155" y="805.250" width="210" height="2" fill="#b30000"/>
<rect x="1365" y="805.375" width="210" height="2" fill="#b30000"/>
<rect x="1575" y="805.500" width="104" height="2" fill="#b30000"/>
<rect x="0" y="237" width="1796" height="1" fill="#87939a"/>
</svg>
<div class="sym">BITCOIN</div><div class="cfd">CFD</div>
<svg style="position:absolute;left:94px;top:15px" width="8" height="5" viewBox="0 0 8 5"><path d="M0 0h8L4 4.4z" fill="#7a7a7a"/></svg>
<svg style="position:absolute;left:113.4px;top:11.4px" width="13" height="13" viewBox="0 0 13 13"><circle cx="6.5" cy="6.5" r="6" fill="#858585"/><rect x="5.7" y="2.6" width="1.8" height="1.8" fill="#fff"/><path d="M5.2 5.4h2.3v3.6h0.7v1.1H5v-1.1h0.7V6.5H5.2z" fill="#fff"/></svg>
<div class="d1"><span>D1</span><svg style="position:absolute;left:31px;top:5px" width="8" height="5" viewBox="0 0 8 5"><path d="M0 0h8L4 4.2z" fill="#757575"/></svg></div>
<div class="tp" style="left:1437px;top:35.5px;color:#12b07a">TP1</div>
<div class="tp" style="left:1437px;top:128.7px;color:#12b07a">TP2</div>
<div class="tp" style="left:1437px;top:330px;color:#e8393a">SL</div>
<div class="pl" style="top:59px;background:#b30000">72000.00</div>
<div class="pl" style="top:156px;background:#b30000">66500.00</div>
<div class="pl" style="top:270px;background:#b30000">60000.00</div>
<div class="pl" style="top:350px;background:#b30000">55500.00</div>
<div class="pl" style="top:447px;background:#cc0000">50000.00</div>
<div class="pl" style="top:535px;background:#b30000">45000.00</div>
<div class="pl" style="top:614px;background:#b30000">40500.00</div>
<div class="pl" style="top:799px;background:#b30000">30000.00</div>
<div class="a1" style="top:48.8px">18592.24</div>
<div class="a2" style="top:48.8px">72529.57</div>
<div class="a1" style="top:86.8px">18385.71</div>
<div class="a2" style="top:86.8px">70393.21</div>
<div class="a1" style="top:123.8px">18179.17</div>
<div class="a2" style="top:123.8px">68256.84</div>
<div class="a1" style="top:161.8px">17972.64</div>
<div class="a2" style="top:161.8px">66120.48</div>
<div class="a1" style="top:198.8px">17766.11</div>
<div class="a2" style="top:198.8px">63984.12</div>
<div class="a1" style="top:236.8px">17559.58</div>
<div class="a2" style="top:236.8px">61847.76</div>
<div class="a1" style="top:274.8px">17353.05</div>
<div class="a2" style="top:274.8px">59711.39</div>
<div class="a1" style="top:311.8px">17146.51</div>
<div class="a2" style="top:311.8px">57575.03</div>
<div class="a1" style="top:349.8px">16939.98</div>
<div class="a2" style="top:349.8px">55438.67</div>
<div class="a1" style="top:387.8px">16733.45</div>
<div class="a2" style="top:387.8px">53302.31</div>
<div class="a1" style="top:424.8px">16526.92</div>
<div class="a2" style="top:424.8px">51165.95</div>
<div class="a1" style="top:462.8px">16320.38</div>
<div class="a2" style="top:462.8px">49029.58</div>
<div class="a1" style="top:500.8px">16113.85</div>
<div class="a2" style="top:500.8px">46893.22</div>
<div class="a1" style="top:537.8px">15907.32</div>
<div class="a2" style="top:537.8px">44756.86</div>
<div class="a1" style="top:575.8px">15700.79</div>
<div class="a2" style="top:575.8px">42620.50</div>
<div class="a1" style="top:613.8px">15494.25</div>
<div class="a2" style="top:613.8px">40484.13</div>
<div class="a1" style="top:650.8px">15287.72</div>
<div class="a2" style="top:650.8px">38347.77</div>
<div class="a1" style="top:688.8px">15081.19</div>
<div class="a2" style="top:688.8px">36211.41</div>
<div class="a1" style="top:726.8px">14874.66</div>
<div class="a2" style="top:726.8px">34075.05</div>
<div class="a1" style="top:763.8px">14668.13</div>
<div class="a2" style="top:763.8px">31938.69</div>
<div class="a1" style="top:801.8px">14461.59</div>
<div class="a2" style="top:801.8px">29802.32</div>
<div class="cur"><svg width="67" height="17" viewBox="0 0 67 17" style="position:absolute;left:0;top:0"><path d="M0 8.3L9 0H67V17H9z" fill="#87939a"/></svg><span>62252.00</span></div>
<div class="dt" style="left:6.4px">08.10.2023</div>
<div class="dt" style="left:138.9px">30.10.2023</div>
<div class="dt" style="left:271.3px">21.11.2023</div>
<div class="dt" style="left:403.8px">13.12.2023</div>
<div class="dt" style="left:536.3px">04.01.2024</div>
<div class="dt" style="left:668.8px">26.01.2024</div>
<div class="dt" style="left:801.2px">17.02.2024</div>
<div class="dt" style="left:933.7px">10.03.2024</div>
<div class="dt" style="left:1066.2px">01.04.2024</div>
<div class="dt" style="left:1198.6px">23.04.2024</div>
<div class="dt" style="left:1331.1px">15.05.2024</div>
<div class="dt" style="left:1463.6px">06.06.2024</div>
<div class="dt" style="left:1596.0px">28.06.2024</div>
<div class="tm" style="left:1673.2px">08</div><div class="tm g" style="left:1690.2px">h</div><div class="tm" style="left:1702.2px">37</div><div class="tm g" style="left:1719.2px">m</div>
<svg style="position:absolute;left:1747px;top:851px" width="6" height="6"><rect width="6" height="6" fill="#4fc3f7"/></svg>
<div class="l1">US100</div>
<svg style="position:absolute;left:1743px;top:866.5px" width="13" height="9" viewBox="0 0 13 9"><path d="M0.5 4.5C2.5 1.5 4.5 0.6 6.5 0.6S10.5 1.5 12.5 4.5C10.5 7.5 8.5 8.4 6.5 8.4S2.5 7.5 0.5 4.5z" fill="none" stroke="#d5dde1" stroke-width="1"/><circle cx="6.5" cy="4.5" r="2" fill="#d5dde1"/></svg>
<svg style="position:absolute;left:1763px;top:866px" width="8" height="10" viewBox="0 0 8 10"><path d="M0 4L4 0L8 4zM0 6L4 10L8 6z" fill="#37474f"/></svg>
<svg style="position:absolute;left:1776px;top:866.6px" width="8" height="8" viewBox="0 0 8 8"><path d="M0.8 0.8L7.2 7.2M7.2 0.8L0.8 7.2" stroke="#e53935" stroke-width="1.5"/></svg>
<svg style="position:absolute;left:1809px;top:851px" width="6" height="6"><rect width="6" height="6" fill="#26a96c"/></svg>
<div class="l2">BITCOI..</div>
<div class="btn"><svg width="40" height="16" viewBox="0 0 40 16"><g stroke="#fff" fill="none"><path d="M7.5 2.5V13.5" stroke-width="1.2"/><rect x="6.3" y="5" width="2.4" height="5.4" stroke-width="1.1" fill="#e53935"/><path d="M11.3 2V14" stroke-width="0.8"/><path d="M15 4V12.5" stroke-width="1.2"/><rect x="14.1" y="6.9" width="1.8" height="2.2" stroke-width="1.1" fill="#e53935"/><path d="M27.5 5L33.5 11M33.5 5L27.5 11" stroke-width="1.5"/></g></svg></div>
</body></html>
